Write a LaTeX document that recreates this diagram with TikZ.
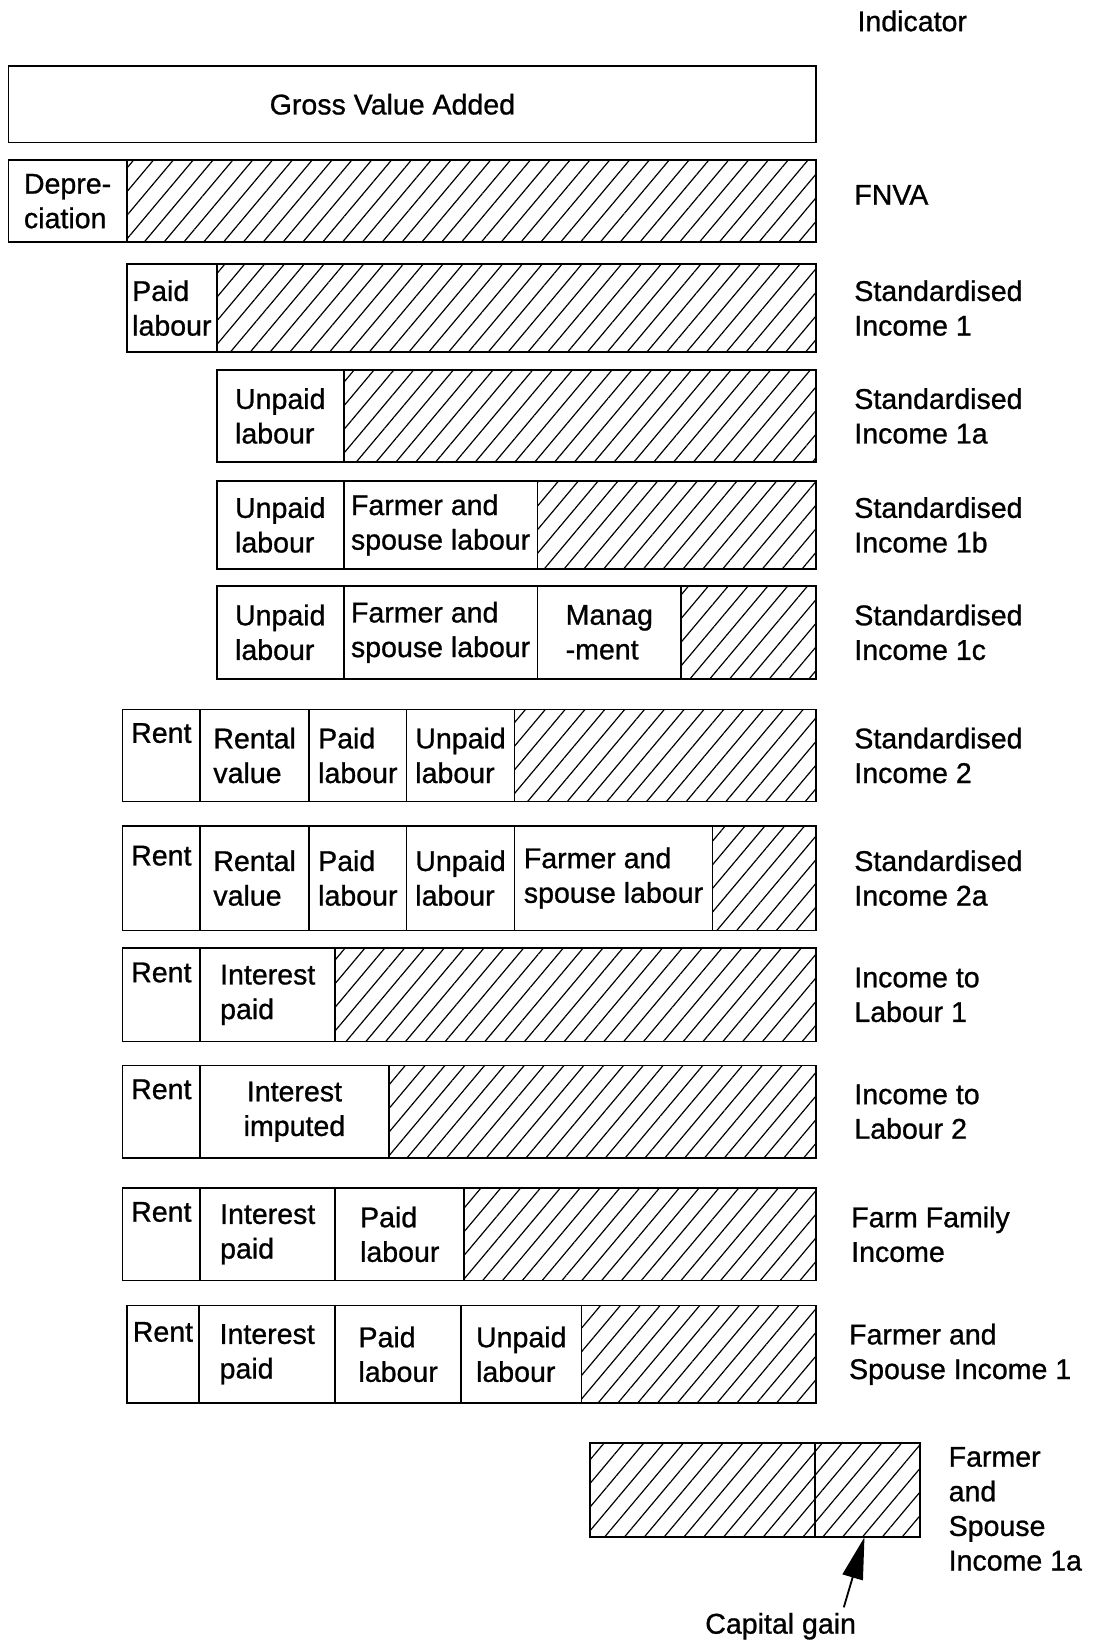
\documentclass[tikz,border=0pt]{standalone}
\usepackage{fontspec}
\setmainfont{Liberation Sans}[FakeBold=0.9]
\usepackage{tikz}
\usetikzlibrary{positioning, arrows.meta, patterns.meta}
\newcommand{\labfont}{\fontsize{15.5}{18.8}\selectfont}
\tikzset{
    base/.style={draw, line width=0.9pt, outer sep=0pt, inner sep=0pt, align=left, font=\labfont},
    cell/.style={base, minimum width=#1},
    hatched/.style={base, minimum width=#1, pattern={Lines[angle=50, distance=0.29cm, line width=0.65pt]}},
    indicator/.style={align=left, font=\labfont, inner sep=0.1cm},
    arrow/.style={-{Triangle[length=0.8cm, width=0.4cm]}, line width=1pt}
}
\begin{document}
\begin{tikzpicture}
    \useasboundingbox (0, 0) rectangle (20.96, -31.36);

    % Header
    \node[indicator, anchor=west] (indhead) at (16.26, -0.40) {Indicator};

    % Gross Value Added
    \node[cell=15.42cm, minimum height=1.46cm, anchor=north west] (gva) at (0.16, -1.26) {\hspace*{-0.76cm}Gross Value Added};

    % FNVA
    \node[cell=2.26cm, minimum height=1.56cm, anchor=north west] (fnvaDep) at (0.16, -3.06) {Depre-\\ciation};
    \node[hatched=13.16cm, minimum height=1.56cm, right=0pt of fnvaDep] (fnvaRest) {};
    \node[indicator, right=0.62cm of fnvaRest, yshift=0.12cm] (fnvaLbl) {FNVA};

    % Standardised Income 1
    \node[cell=1.72cm, minimum height=1.68cm, anchor=north west] (siPaid) at (2.42, -5.04) {Paid\\labour};
    \node[hatched=11.44cm, minimum height=1.68cm, right=0pt of siPaid] (siRest) {};
    \node[indicator, right=0.62cm of siRest] (siLbl) {Standardised\\Income 1};

    % Standardised Income 1a
    \node[cell=2.42cm, minimum height=1.76cm, anchor=north west] (siaUnpaid) at (4.14, -7.06) {Unpaid\\labour};
    \node[hatched=9.02cm, minimum height=1.76cm, right=0pt of siaUnpaid] (siaRest) {};
    \node[indicator, right=0.62cm of siaRest] (siaLbl) {Standardised\\Income 1a};

    % Standardised Income 1b
    \node[cell=2.42cm, minimum height=1.68cm, anchor=north west] (sibUnpaid) at (4.14, -9.18) {Unpaid\\labour};
    \node[cell=3.70cm, minimum height=1.68cm, right=0pt of sibUnpaid] (sibFarmer) {Farmer and\\spouse labour};
    \node[hatched=5.32cm, minimum height=1.68cm, right=0pt of sibFarmer] (sibRest) {};
    \node[indicator, right=0.62cm of sibRest] (sibLbl) {Standardised\\Income 1b};

    % Standardised Income 1c
    \node[cell=2.42cm, minimum height=1.78cm, anchor=north west] (sicUnpaid) at (4.14, -11.18) {Unpaid\\labour};
    \node[cell=3.70cm, minimum height=1.78cm, right=0pt of sicUnpaid] (sicFarmer) {Farmer and\\spouse labour};
    \node[cell=2.74cm, minimum height=1.78cm, right=0pt of sicFarmer] (sicManag) {Manag\\-ment};
    \node[hatched=2.58cm, minimum height=1.78cm, right=0pt of sicManag] (sicRest) {};
    \node[indicator, right=0.62cm of sicRest] (sicLbl) {Standardised\\Income 1c};

    % Standardised Income 2
    \node[cell=1.48cm, minimum height=1.76cm, anchor=north west] (stRent) at (2.34, -13.54) {Rent\\\strut};
    \node[cell=2.08cm, minimum height=1.76cm, right=0pt of stRent] (stRental) {Rental\\value};
    \node[cell=1.86cm, minimum height=1.76cm, right=0pt of stRental] (stPaid) {Paid\\labour};
    \node[cell=2.06cm, minimum height=1.76cm, right=0pt of stPaid] (stUnpaid) {Unpaid\\labour};
    \node[hatched=5.76cm, minimum height=1.76cm, right=0pt of stUnpaid] (stRest) {};
    \node[indicator, right=0.62cm of stRest] (stLbl) {Standardised\\Income 2};

    % Standardised Income 2a
    \node[cell=1.48cm, minimum height=2.0cm, anchor=north west] (staRent) at (2.34, -15.76) {Rent\\\strut};
    \node[cell=2.08cm, minimum height=2.0cm, right=0pt of staRent] (staRental) {Rental\\value};
    \node[cell=1.86cm, minimum height=2.0cm, right=0pt of staRental] (staPaid) {Paid\\labour};
    \node[cell=2.06cm, minimum height=2.0cm, right=0pt of staPaid] (staUnpaid) {Unpaid\\labour};
    \node[cell=3.78cm, minimum height=2.0cm, right=0pt of staUnpaid] (staFarmer) {Farmer and\\spouse labour};
    \node[hatched=1.98cm, minimum height=2.0cm, right=0pt of staFarmer] (staRest) {};
    \node[indicator, right=0.62cm of staRest] (staLbl) {Standardised\\Income 2a};

    % Income to Labour 1
    \node[cell=1.48cm, minimum height=1.78cm, anchor=north west] (ilRent) at (2.34, -18.10) {Rent\\\strut};
    \node[cell=2.58cm, minimum height=1.78cm, right=0pt of ilRent] (ilInterest) {Interest\\paid};
    \node[hatched=9.18cm, minimum height=1.78cm, right=0pt of ilInterest] (ilRest) {};
    \node[indicator, right=0.62cm of ilRest] (ilLbl) {Income to\\Labour 1};

    % Income to Labour 2
    \node[cell=1.48cm, minimum height=1.76cm, anchor=north west] (ilbRent) at (2.34, -20.34) {Rent\\\strut};
    \node[cell=3.60cm, minimum height=1.76cm, align=center, right=0pt of ilbRent] (ilbInterest) {Interest\\imputed};
    \node[hatched=8.16cm, minimum height=1.76cm, right=0pt of ilbInterest] (ilbRest) {};
    \node[indicator, right=0.62cm of ilbRest] (ilbLbl) {Income to\\Labour 2};

    % Farm Family Income
    \node[cell=1.48cm, minimum height=1.76cm, anchor=north west] (ffRent) at (2.34, -22.68) {Rent\\\strut};
    \node[cell=2.58cm, minimum height=1.76cm, right=0pt of ffRent] (ffInterest) {Interest\\paid};
    \node[cell=2.46cm, minimum height=1.76cm, right=0pt of ffInterest] (ffPaid) {Paid\\labour};
    \node[hatched=6.72cm, minimum height=1.76cm, right=0pt of ffPaid] (ffRest) {};
    \node[indicator, right=0.56cm of ffRest] (ffLbl) {Farm Family\\Income};

    % Farmer and Spouse Income 1
    \node[cell=1.38cm, minimum height=1.86cm, anchor=north west] (fsRent) at (2.42, -24.92) {Rent\\\strut};
    \node[cell=2.60cm, minimum height=1.86cm, right=0pt of fsRent] (fsInterest) {Interest\\paid};
    \node[cell=2.40cm, minimum height=1.86cm, right=0pt of fsInterest] (fsPaid) {Paid\\labour};
    \node[cell=2.30cm, minimum height=1.86cm, right=0pt of fsPaid] (fsUnpaid) {Unpaid\\labour};
    \node[hatched=4.48cm, minimum height=1.86cm, right=0pt of fsUnpaid] (fsRest) {};
    \node[indicator, right=0.52cm of fsRest] (fsLbl) {Farmer and\\Spouse Income 1};

    % Farmer and Spouse Income 1a
    \node[hatched=4.30cm, minimum height=1.80cm, anchor=north west] (fsaRest) at (11.26, -27.54) {};
    \node[hatched=2.00cm, minimum height=1.80cm, right=0pt of fsaRest] (fsaGain) {};
    \node[indicator, right=0.44cm of fsaGain, yshift=-0.36cm] (fsaLbl) {Farmer\\and\\Spouse\\Income 1a};

    % Capital gain
    \node[indicator] (gainLbl) at (14.90, -31.04) {Capital gain};
    \draw[arrow] ([xshift=-0.34cm]gainLbl.north east) -- ([xshift=-0.06cm]fsaGain.south);
\end{tikzpicture}
\end{document}
